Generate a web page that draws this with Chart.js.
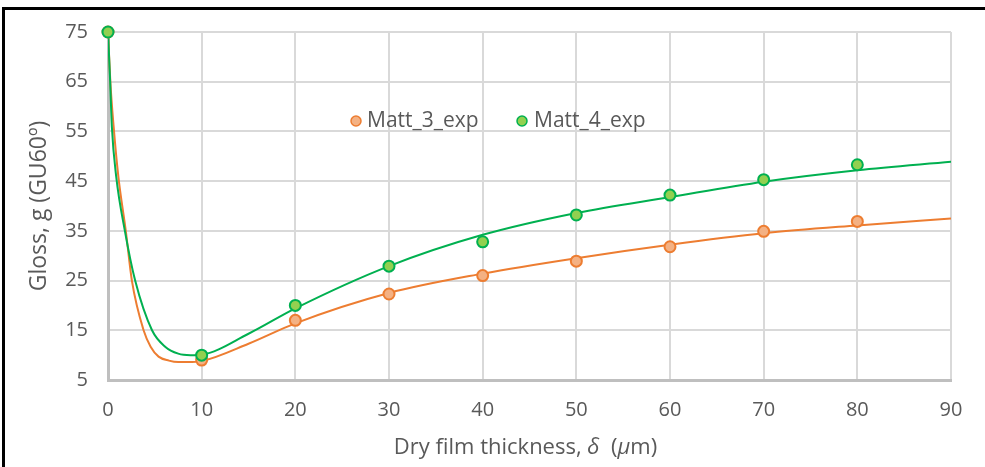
<!DOCTYPE html>
<html>
<head>
<meta charset="utf-8">
<script src="https://cdn.jsdelivr.net/npm/chart.js@4.4.1/dist/chart.umd.min.js"></script>
<style>
  html, body { margin: 0; padding: 0; background: #fff; }
  #wrap { position: relative; width: 985px; height: 467px; overflow: hidden; }
  #frame { position: absolute; left: 2px; top: 7px; width: 1200px; height: 700px;
           border-left: 3px solid #000; border-top: 3px solid #000; }
  canvas { position: absolute; left: 0; top: 0; }
</style>
</head>
<body>
<div id="wrap">
  <div id="frame"></div>
  <canvas id="gloss" width="985" height="467"></canvas>
</div>
<script>
// measured gloss vs dry film thickness
const thickness = [0, 10, 20, 30, 40, 50, 60, 70, 80];
const matt3Exp = [75, 9.0, 17.0, 22.3, 26.0, 28.9, 31.8, 34.9, 36.9];
const matt4Exp = [75, 10.0, 20.0, 27.9, 32.8, 38.2, 42.2, 45.3, 48.3];

// fitted curves
const matt3FitX = [0, 0.25, 0.6, 1.1, 1.9, 2.55, 3.8, 4.55, 5.4, 6.5, 7.5, 8.5, 10, 15, 20, 30, 40, 50, 60, 70, 80, 90];
const matt3FitY = [75, 65, 56, 46, 35, 25, 15, 11.7, 9.7, 8.9, 8.6, 8.6, 8.8, 12.3, 16.4, 22.5, 26.4, 29.5, 32.2, 34.5, 36.1, 37.5];
const matt4FitX = [0, 0.23, 0.41, 0.87, 1.8, 2.9, 4.7, 6.1, 7.5, 8.8, 10, 15, 20, 30, 40, 50, 60, 70, 80, 90];
const matt4FitY = [75, 65, 56, 46, 35, 25, 15, 11.7, 10.3, 10.0, 10.1, 14.3, 19.4, 27.9, 34.2, 38.6, 41.8, 44.9, 47.2, 48.9];

// axis ticks
const xTicks = [0, 10, 20, 30, 40, 50, 60, 70, 80, 90];
const yTicks = [5, 15, 25, 35, 45, 55, 65, 75];

// x axis title, greek symbols set in italic
const xTitleParts = [['Dry film thickness, ', false], ['δ', true], ['  (', false], ['μ', true], ['m)', false]];

const ORANGE = '#ED7D31', ORANGE_FILL = '#F4B183';
const GREEN = '#00B050', GREEN_FILL = '#92D050';
const TXT = '#595959';
const FONT = '"Open Sans", "Noto Sans", sans-serif';

const pts = (xs, ys) => xs.map((x, i) => ({x: x, y: ys[i]}));

// legend sits inside the plot, only the measured series
const innerLegend = {
  id: 'innerLegend',
  afterDraw(chart) {
    const ctx = chart.ctx;
    const items = chart.data.datasets.filter(d => d.legendPos !== undefined)
      .sort((a, b) => a.legendPos - b.legendPos);
    const pos = [[356, 367], [522, 534]];
    const y = 121;
    ctx.save();
    ctx.font = '21px ' + FONT;
    ctx.textBaseline = 'middle';
    ctx.textAlign = 'left';
    items.forEach((d, i) => {
      ctx.beginPath();
      ctx.arc(pos[i][0], y, 5, 0, Math.PI * 2);
      ctx.fillStyle = d.backgroundColor;
      ctx.fill();
      ctx.lineWidth = 1.5;
      ctx.strokeStyle = d.borderColor;
      ctx.stroke();
      ctx.fillStyle = TXT;
      ctx.fillText(d.label, pos[i][1], y);
    });
    ctx.restore();
  }
};

// x title with mixed upright / italic runs
const xTitle = {
  id: 'xTitle',
  afterDraw(chart) {
    const ctx = chart.ctx;
    const fontOf = it => (it ? 'italic ' : '') + '22px ' + FONT;
    ctx.save();
    ctx.fillStyle = TXT;
    ctx.textBaseline = 'middle';
    ctx.textAlign = 'left';
    let total = 0;
    xTitleParts.forEach(p => { ctx.font = fontOf(p[1]); total += ctx.measureText(p[0]).width; });
    const a = chart.chartArea;
    let x = (a.left + a.right) / 2 - 4 - total / 2;
    xTitleParts.forEach(p => {
      ctx.font = fontOf(p[1]);
      ctx.fillText(p[0], x, 448);
      x += ctx.measureText(p[0]).width;
    });
    ctx.restore();
  }
};

new Chart(document.getElementById('gloss'), {
  type: 'scatter',
  data: {
    datasets: [
      {
        label: 'Matt_4_exp', legendPos: 1,
        data: pts(thickness, matt4Exp),
        backgroundColor: GREEN_FILL, borderColor: GREEN,
        pointRadius: 5.5, pointBorderWidth: 2, showLine: false, clip: false
      },
      {
        label: 'Matt_3_exp', legendPos: 0,
        data: pts(thickness, matt3Exp),
        backgroundColor: ORANGE_FILL, borderColor: ORANGE,
        pointRadius: 5.5, pointBorderWidth: 2, showLine: false, clip: false
      },
      {
        label: 'Matt_4 fit',
        data: pts(matt4FitX, matt4FitY),
        borderColor: GREEN, borderWidth: 2, pointRadius: 0,
        showLine: true, cubicInterpolationMode: 'monotone'
      },
      {
        label: 'Matt_3 fit',
        data: pts(matt3FitX, matt3FitY),
        borderColor: ORANGE, borderWidth: 2, pointRadius: 0,
        showLine: true, cubicInterpolationMode: 'monotone'
      }
    ]
  },
  options: {
    responsive: false,
    animation: false,
    devicePixelRatio: 1,
    layout: { padding: { top: 31, right: 34, left: 0, bottom: 0 } },
    plugins: { legend: { display: false }, tooltip: { enabled: false } },
    scales: {
      x: {
        type: 'linear', min: 0, max: 90,
        afterBuildTicks: s => { s.ticks = xTicks.map(v => ({value: v})); },
        afterFit: s => { s.height = 87; },
        grid: { color: '#d9d9d9', lineWidth: 2, drawTicks: false },
        border: { color: '#bfbfbf', width: 3 },
        ticks: { color: TXT, font: { family: FONT, size: 20 }, padding: 18 },
        title: { display: false }
      },
      y: {
        type: 'linear', min: 5, max: 75,
        afterBuildTicks: s => { s.ticks = yTicks.map(v => ({value: v})); },
        afterFit: s => { s.width = 108; },
        grid: { color: '#d9d9d9', lineWidth: 2, drawTicks: false },
        border: { color: '#bfbfbf', width: 3 },
        ticks: { color: TXT, font: { family: FONT, size: 20 }, padding: 20 },
        title: {
          display: true, text: 'Gloss, g (GU60º)',
          color: TXT, font: { family: FONT, size: 23 }, padding: { top: 26, bottom: 0 }
        }
      }
    }
  },
  plugins: [innerLegend, xTitle]
});
</script>
</body>
</html>
